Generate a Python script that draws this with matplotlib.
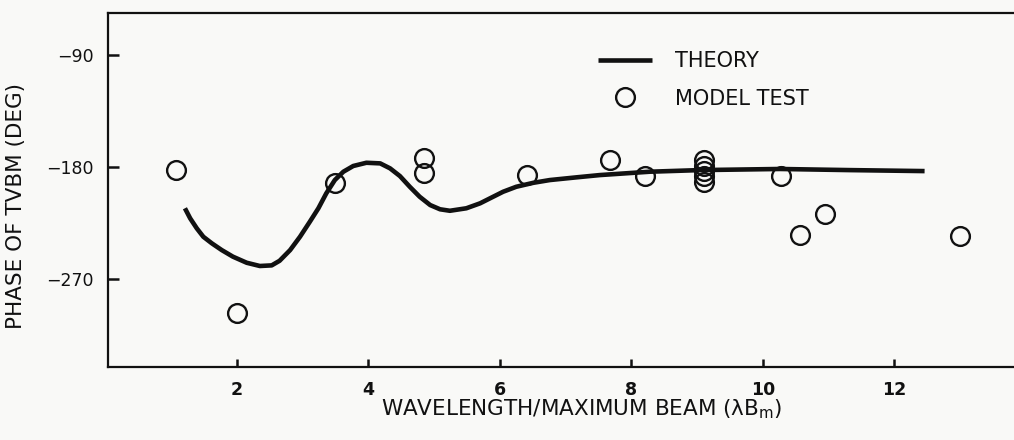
import matplotlib
matplotlib.use("Agg")
import matplotlib.pyplot as plt

# theory curve
theory_x = [1.21, 1.29, 1.39, 1.49, 1.62, 1.77, 1.94, 2.15, 2.35, 2.53, 2.65, 2.81,
            2.96, 3.11, 3.24, 3.36, 3.49, 3.62, 3.77, 3.97, 4.18, 4.33, 4.48, 4.63,
            4.78, 4.94, 5.09, 5.24, 5.49, 5.70, 5.85, 6.05, 6.25, 6.51, 6.76, 7.17,
            7.52, 8.28, 9.04, 10.26, 11.32, 12.46]
theory_y = [-213.4, -221.5, -229.5, -236.3, -241.6, -247.0, -252.3, -257.2, -259.8,
            -259.3, -255.6, -247.0, -236.3, -224.2, -213.4, -201.4, -190.7, -184.0,
            -179.4, -176.8, -177.3, -181.3, -187.5, -196.1, -204.1, -210.8, -214.2,
            -215.4, -213.4, -209.4, -205.4, -200.1, -196.1, -192.9, -190.7, -188.5,
            -186.7, -184.0, -182.7, -181.8, -182.7, -183.5]

# model test points
test_x = [1.08, 2.00, 3.49, 4.85, 4.85, 6.41, 7.67, 8.21, 9.11, 9.11, 9.11, 9.11, 9.11,
          10.27, 10.56, 10.94, 13.00]
test_y = [-182.7, -297.6, -192.9, -173.2, -185.3, -186.7, -174.6, -187.5, -174.6, -179.4,
          -183.5, -187.5, -192.3, -187.5, -234.9, -218.0, -235.5]

xticks = [2, 4, 6, 8, 10, 12]
yticks = [-90, -180, -270]

plt.rcParams["font.family"] = ["DejaVu Sans"]
plt.rcParams["mathtext.default"] = "regular"

W, H = 1014, 440
bg = "#f9f9f7"
ink = "#111111"
fig = plt.figure(figsize=(W / 100, H / 100), dpi=100, facecolor=bg)
ax = fig.add_axes([108 / W, 1 - 367 / H, 1 - 108 / W, (367 - 13) / H], facecolor=bg)

ax.plot(theory_x, theory_y, color=ink, lw=3.3, solid_capstyle="butt",
        solid_joinstyle="round", label="THEORY")
ax.plot(test_x, test_y, ls="none", marker="o", ms=13.5, mfc="none", mec=ink, mew=1.7,
        label="MODEL TEST")

ax.set_xlim(0.04, 13.82)
ax.set_ylim(-341, -56.4)
ax.set_xticks(xticks)
ax.set_yticks(yticks)

for side in ["left", "bottom", "top"]:
    ax.spines[side].set_linewidth(1.6)
    ax.spines[side].set_color(ink)
ax.spines["right"].set_visible(False)

ax.tick_params(axis="x", direction="in", length=6, width=1.8, pad=10, labelsize=12.5,
               colors=ink)
ax.tick_params(axis="y", direction="in", length=8, width=1.8, pad=10, labelsize=12.5,
               colors=ink)
for lab in ax.get_xticklabels():
    lab.set_fontweight("bold")

fig.text(582 / W, 1 - 409 / H, r"WAVELENGTH/MAXIMUM BEAM ($\lambda$B$_{m}$)",
         ha="center", va="center", fontsize=15.5, color=ink)
fig.text(16 / W, 1 - 206 / H, "PHASE OF TVBM (DEG)", rotation=90,
         ha="center", va="center", fontsize=15.5, color=ink)

ax.legend(loc="upper left", bbox_to_anchor=(598 / W, 1 - 51 / H),
          bbox_transform=fig.transFigure, frameon=False, fontsize=15,
          handlelength=2.6, handletextpad=1.1, labelspacing=0.85,
          borderpad=0, borderaxespad=0, labelcolor=ink)

fig.savefig("out.png", dpi=100, facecolor=bg)
